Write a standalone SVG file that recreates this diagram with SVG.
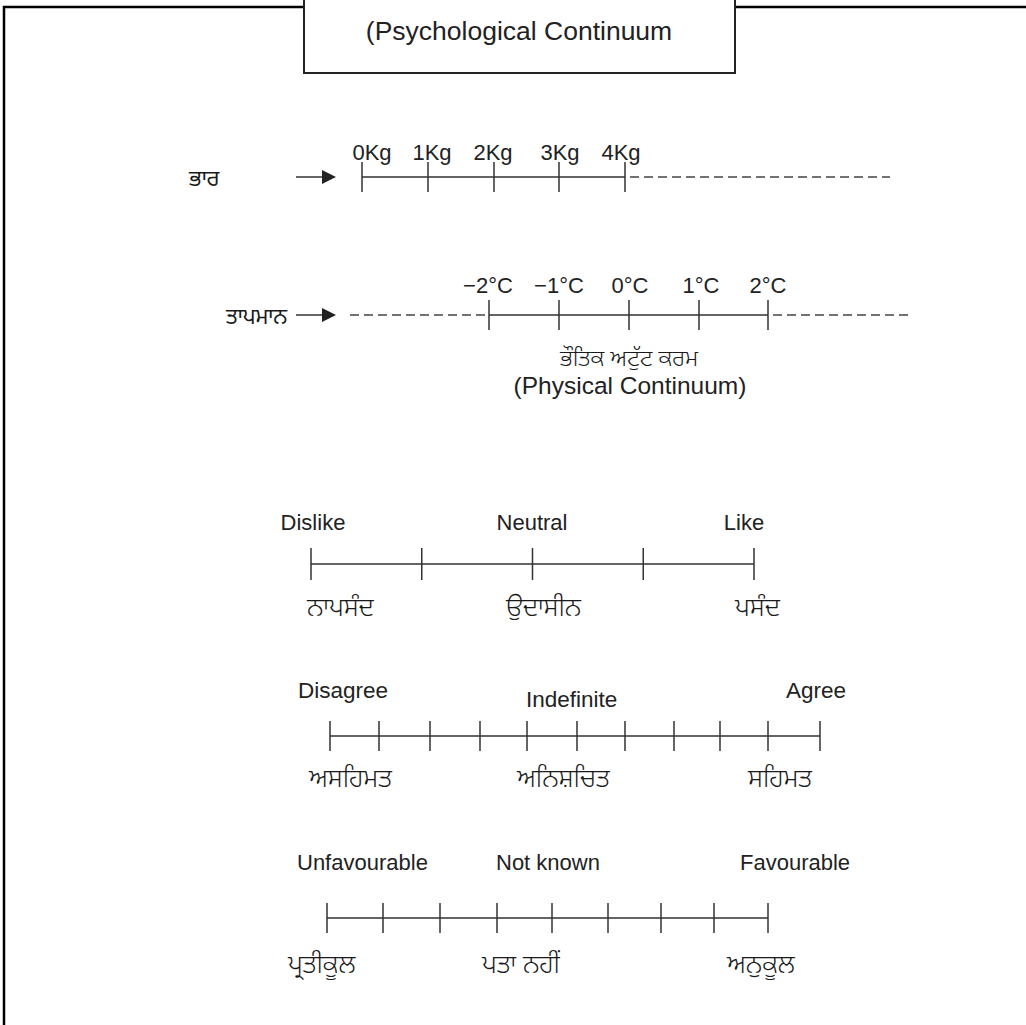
<svg xmlns="http://www.w3.org/2000/svg" width="1026" height="1025" viewBox="0 0 1026 1025">
<style>
.frame{fill:none;stroke:#000;stroke-width:2.5}
.box{fill:#fff;stroke:#222;stroke-width:2}
.ax{stroke:#333;stroke-width:1.5;fill:none}
.dash{stroke:#444;stroke-width:1.5;stroke-dasharray:9 5;fill:none}
.t{font-family:"Liberation Sans",Arial,sans-serif;font-size:22px;fill:#222}
.c{text-anchor:middle}
.p{font-family:"Noto Sans Gurmukhi","Lohit Gurmukhi","Raavi","Noto Sans",sans-serif;font-size:26px;font-weight:300;fill:#1a1a1a}
.ps{font-size:22px;font-weight:400}
</style>
<defs>
<marker id="ah" markerUnits="userSpaceOnUse" markerWidth="14" markerHeight="14" refX="0" refY="7" orient="auto" viewBox="0 0 14 14">
<path d="M0,0 L14,7 L0,14 z" fill="#222"/>
</marker>
</defs>
<rect width="1026" height="1025" fill="#fff"/>
<g id="frame">
<path class="frame" d="M4 1025 V7 H304 M735 7 H1026"/>
<rect class="box" x="304" y="-5" width="431" height="78"/>
<text class="t c" x="519" y="40" style="font-size:26.5px">(Psychological Continuum</text>
</g>
<g id="connectors">
<line class="ax" x1="296" y1="177" x2="322" y2="177" marker-end="url(#ah)"/>
<line class="ax" x1="296" y1="315" x2="322" y2="315" marker-end="url(#ah)"/>
</g>
<g id="weight">
<text class="p ps" x="189" y="186">ਭਾਰ</text>
<path class="ax" d="M362 177H625 M362 162V192 M428 162V192 M494 162V192 M559 162V192 M625 162V192"/>
<path class="dash" d="M630 177H890"/>
<g class="t c">
<text x="372" y="160">0Kg</text><text x="432" y="160">1Kg</text><text x="493" y="160">2Kg</text><text x="560" y="160">3Kg</text><text x="621" y="160">4Kg</text>
</g>
</g>
<g id="temperature">
<text class="p ps" x="226" y="324" style="font-size:21.5px">ਤਾਪਮਾਨ</text>
<path class="dash" d="M350 315H486"/>
<path class="ax" d="M489 315H768 M489 300V330 M559 300V330 M629 300V330 M699 300V330 M768 300V330"/>
<path class="dash" d="M773 315H910"/>
<g class="t c">
<text x="488" y="293">−2°C</text><text x="559" y="293">−1°C</text><text x="630" y="293">0°C</text><text x="701" y="293">1°C</text><text x="768" y="293">2°C</text>
</g>
<text class="p c" x="629" y="366" style="font-size:23px">ਭੌਤਿਕ ਅਟੁੱਟ ਕਰਮ</text>
<text class="t c" x="630" y="394" style="font-size:24.5px">(Physical Continuum)</text>
</g>
<g id="like-scale">
<path class="ax" d="M311 564H754 M311 548V580 M421.75 548V580 M532.5 548V580 M643.25 548V580 M754 548V580"/>
<text class="t c" x="313" y="530">Dislike</text>
<text class="t c" x="532" y="530">Neutral</text>
<text class="t c" x="744" y="530">Like</text>
<text class="p" x="307" y="616">ਨਾਪਸੰਦ</text>
<text class="p" x="506" y="616">ਉਦਾਸੀਨ</text>
<text class="p" x="735" y="616">ਪਸੰਦ</text>
</g>
<g id="agree-scale">
<path class="ax" d="M330 736H820 M330 721V751 M379 721V751 M430 721V751 M480 721V751 M527 721V751 M577 721V751 M625 721V751 M674 721V751 M720 721V751 M768 721V751 M820 721V751"/>
<text class="t" x="298" y="698" style="font-size:22.5px">Disagree</text>
<text class="t" x="526" y="707" style="font-size:22.5px">Indefinite</text>
<text class="t" x="786" y="698" style="font-size:22.5px">Agree</text>
<text class="p" x="309" y="787">ਅਸਹਿਮਤ</text>
<text class="p" x="517" y="787">ਅਨਿਸ਼ਚਿਤ</text>
<text class="p" x="748" y="787">ਸਹਿਮਤ</text>
</g>
<g id="favour-scale">
<path class="ax" d="M327 918H768 M327 903V933 M383 903V933 M440 903V933 M497 903V933 M552 903V933 M608 903V933 M661 903V933 M714 903V933 M768 903V933"/>
<text class="t" x="297" y="870">Unfavourable</text>
<text class="t" x="496" y="870">Not known</text>
<text class="t" x="740" y="870">Favourable</text>
<text class="p" x="288" y="973">ਪ੍ਰਤੀਕੂਲ</text>
<text class="p" x="482" y="973">ਪਤਾ ਨਹੀਂ</text>
<text class="p" x="727" y="973">ਅਨੁਕੂਲ</text>
</g>
</svg>
